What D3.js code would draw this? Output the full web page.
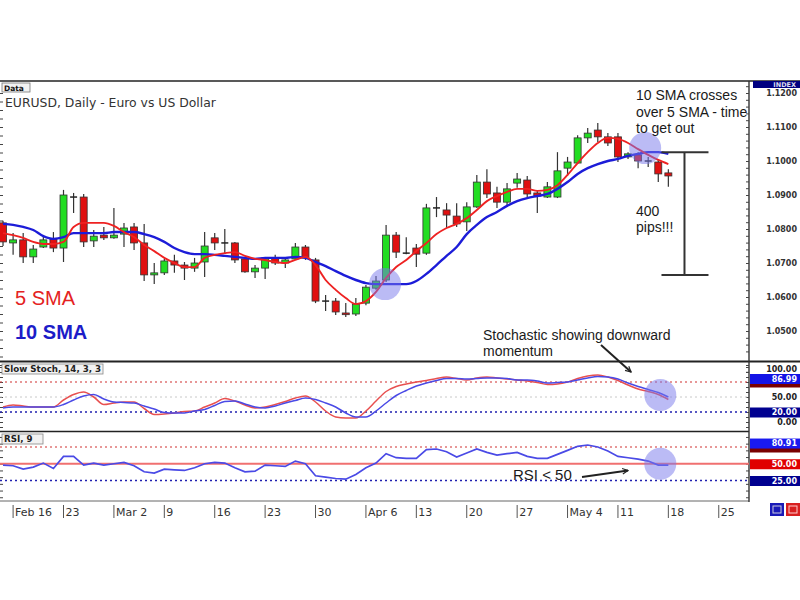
<!DOCTYPE html>
<html><head><meta charset="utf-8">
<script src="https://cdn.jsdelivr.net/npm/d3@7"></script>
<style>body{margin:0;background:#fff}svg{display:block}</style>
</head><body>
<svg id="c" width="800" height="600"></svg>
<script>
// ---------------- DATA ----------------
const dateLabels = ["Feb 16","23","Mar 2","9","16","23","30","Apr 6","13","20","27","May 4","11","18","25"];
const dateTickIdx = [1,6,11,16,21,26,31,36,41,46,51,56,61,66,71];

const open  = [1.0818,1.0759,1.0768,1.0718,1.0747,1.0771,1.0744,1.0894,1.0894,1.0765,1.0782,1.0774,1.0785,1.0806,1.0759,1.0665,1.0671,1.0706,1.0694,1.0685,1.0703,1.0774,1.0759,1.0759,1.0712,1.0674,1.0685,1.0715,1.0700,1.0712,1.0747,1.0709,1.0588,1.0588,1.0553,1.0550,1.0582,1.0626,1.0650,1.0782,1.0729,1.0744,1.0729,1.0862,1.0856,1.0838,1.0821,1.0865,1.0938,1.0906,1.0879,1.0935,1.0944,1.0906,1.0894,1.0894,1.0979,1.0994,1.1068,1.1091,1.1071,1.1071,1.1012,1.1018,1.1000,1.0997,1.0965];
const high  = [1.0824,1.0788,1.0788,1.0753,1.0782,1.0791,1.0915,1.0906,1.0903,1.0797,1.0806,1.0862,1.0818,1.0818,1.0815,1.0700,1.0712,1.0724,1.0703,1.0715,1.0791,1.0788,1.0800,1.0762,1.0718,1.0694,1.0718,1.0724,1.0718,1.0759,1.0753,1.0715,1.0606,1.0597,1.0582,1.0597,1.0635,1.0662,1.0812,1.0791,1.0776,1.0756,1.0874,1.0894,1.0876,1.0876,1.0879,1.0959,1.0976,1.0924,1.0935,1.0965,1.0956,1.0915,1.0938,1.1026,1.1012,1.1076,1.1097,1.1112,1.1082,1.1082,1.1026,1.1026,1.1012,1.1006,1.0976];
const low   = [1.0750,1.0724,1.0700,1.0700,1.0744,1.0732,1.0703,1.0847,1.0747,1.0747,1.0768,1.0771,1.0747,1.0738,1.0647,1.0638,1.0665,1.0671,1.0650,1.0674,1.0659,1.0738,1.0729,1.0700,1.0671,1.0656,1.0653,1.0694,1.0685,1.0709,1.0709,1.0582,1.0559,1.0547,1.0541,1.0544,1.0576,1.0621,1.0644,1.0715,1.0726,1.0688,1.0724,1.0835,1.0803,1.0806,1.0794,1.0862,1.0891,1.0862,1.0865,1.0921,1.0894,1.0847,1.0891,1.0891,1.0956,1.0991,1.1053,1.1056,1.1044,1.0997,1.1006,1.0979,1.0982,1.0938,1.0924];
const close = [1.0762,1.0768,1.0718,1.0741,1.0768,1.0744,1.0900,1.0893,1.0762,1.0779,1.0774,1.0782,1.0803,1.0759,1.0665,1.0671,1.0706,1.0694,1.0685,1.0700,1.0750,1.0759,1.0758,1.0709,1.0674,1.0685,1.0715,1.0700,1.0709,1.0747,1.0715,1.0588,1.0589,1.0556,1.0548,1.0579,1.0629,1.0647,1.0782,1.0732,1.0729,1.0726,1.0862,1.0861,1.0841,1.0815,1.0865,1.0938,1.0903,1.0879,1.0918,1.0947,1.0903,1.0897,1.0924,1.0971,1.0997,1.1068,1.1082,1.1071,1.1053,1.1012,1.1021,1.1000,1.0997,1.0962,1.0956];

const sma5  = [1.0788,1.0782,1.0774,1.0762,1.0756,1.0756,1.0762,1.0806,1.0818,1.0818,1.0818,1.0809,1.0791,1.0776,1.0753,1.0735,1.0715,1.0700,1.0688,1.0688,1.0715,1.0724,1.0729,1.0732,1.0721,1.0712,1.0709,1.0703,1.0700,1.0709,1.0718,1.0694,1.0650,1.0621,1.0597,1.0579,1.0588,1.0615,1.0656,1.0688,1.0709,1.0735,1.0759,1.0785,1.0803,1.0815,1.0832,1.0856,1.0882,1.0897,1.0909,1.0918,1.0918,1.0912,1.0915,1.0929,1.0959,1.0994,1.1026,1.1053,1.1068,1.1065,1.1053,1.1035,1.1018,1.1003,1.0991];
const sma10 = [1.0815,1.0812,1.0806,1.0797,1.0779,1.0771,1.0776,1.0788,1.0788,1.0788,1.0788,1.0791,1.0791,1.0791,1.0785,1.0776,1.0762,1.0744,1.0732,1.0726,1.0726,1.0724,1.0721,1.0718,1.0715,1.0712,1.0715,1.0715,1.0715,1.0718,1.0715,1.0703,1.0691,1.0676,1.0662,1.0650,1.0641,1.0638,1.0638,1.0638,1.0638,1.0647,1.0668,1.0694,1.0721,1.0747,1.0785,1.0812,1.0835,1.0850,1.0868,1.0882,1.0891,1.0897,1.0903,1.0918,1.0938,1.0962,1.0979,1.0991,1.1000,1.1006,1.1015,1.1021,1.1026,1.1026,1.1021];

const stochK = [30,34,32,30,30,30,44,55,60,50,35,38,40,40,27,15,16,18,21,22,30,38,47,42,34,28,30,35,41,48,52,40,22,10,8,8,22,42,61,71,76,80,83,87,90,87,84,88,90,88,86,84,82,79,75,76,80,87,92,94,90,83,74,66,61,55,45];
const stochD = [28,30,30,30,30,30,35,44,52,55,46,40,39,38,32,26,19,18,18,22,25,33,41,42,36,30,28,32,38,43,48,45,38,30,18,10,10,22,38,53,63,72,78,83,87,87,86,87,88,88,87,84,84,82,78,79,80,84,88,91,90,86,78,71,65,59,50];
const rsi    = [48,47,42,45,51,43,61,61,48,51,48,50,52,47,38,36,42,41,40,44,50,52,51,44,38,39,48,47,46,54,50,32,30,28,27,34,44,51,65,59,58,58,71,72,68,60,66,72,67,63,65,67,61,58,58,64,70,76,78,75,69,61,59,57,54,48,48];

const priceTicks = [1.12,1.11,1.10,1.09,1.08,1.07,1.06,1.05];
const stochLevels = {high:80, low:20, mid:50};
const rsiLevels = {high:75, mid:50, low:25};
const stochAxisText = [100, 50, 0];
const stochAxisBoxes = [{v:80,t:"",c:"#7a0000"},{v:86.99,t:"86.99",c:"#1414e6"},{v:20,t:"20.00",c:"#000090"}];
const rsiAxisBoxes = [{v:75,t:"",c:"#7a0000"},{v:80.91,t:"80.91",c:"#1a1af0"},{v:50,t:"50.00",c:"#e00000"},{v:25,t:"25.00",c:"#000090"}];

// ---------------- LAYOUT ----------------
const svg = d3.select("#c");
const AX = 749;
const P = {top:81, mainBot:361, stochBot:431, rsiBot:501};

const x  = d3.scaleLinear().domain([-0.3, 74]).range([0, AX]);
const yP = d3.scaleLinear().domain([1.05, 1.11]).range([331, 127]);
const yS = d3.scaleLinear().domain([0, 100]).range([422, 372]);
const yR = d3.scaleLinear().domain([25, 75]).range([480.5, 447]);

const defs = svg.append("defs");
function clip(id,y0,y1){defs.append("clipPath").attr("id",id).append("rect").attr("x",0).attr("y",y0).attr("width",AX).attr("height",y1-y0);}
clip("cm",P.top+1,P.mainBot); clip("cs",P.mainBot+1,P.stochBot); clip("cr",P.stochBot+1,P.rsiBot);
defs.append("marker").attr("id","arr").attr("viewBox","0 0 10 10").attr("refX",9).attr("refY",5)
  .attr("markerWidth",7).attr("markerHeight",7).attr("orient","auto").attr("markerUnits","userSpaceOnUse")
  .append("path").attr("d","M1,1 L9,5 L1,9").attr("fill","none").attr("stroke","#222").attr("stroke-width",1.6);

// ---------- frame ----------
svg.append("line").attr("x1",0).attr("x2",800).attr("y1",P.top).attr("y2",P.top).attr("stroke","#222").attr("stroke-width",1.5);
svg.append("line").attr("x1",0).attr("x2",800).attr("y1",P.mainBot+0.5).attr("y2",P.mainBot+0.5).attr("stroke","#222").attr("stroke-width",2);
svg.append("line").attr("x1",0).attr("x2",AX).attr("y1",P.stochBot+0.5).attr("y2",P.stochBot+0.5).attr("stroke","#222").attr("stroke-width",1.6);
svg.append("line").attr("x1",0).attr("x2",AX).attr("y1",P.rsiBot).attr("y2",P.rsiBot).attr("stroke","#666").attr("stroke-width",1);
svg.append("line").attr("x1",AX).attr("x2",AX).attr("y1",P.top).attr("y2",P.rsiBot+1).attr("stroke","#333").attr("stroke-width",1.4);

const gRA = svg.append("g").attr("transform",`translate(${AX},0)`)
  .call(d3.axisLeft(yP).tickValues(d3.range(1.038,1.122,0.002)).tickSize(3).tickFormat(""));
gRA.select(".domain").remove();
gRA.selectAll("line").attr("stroke","#444");
const gLA = svg.append("g")
  .call(d3.axisRight(yP).tickValues(d3.range(1.04,1.121,0.0025)).tickSize(3).tickFormat(""));
gLA.select(".domain").remove();
gLA.selectAll("line").attr("stroke","#444");
[[yS,d3.range(-10,121,10)],[yR,d3.range(0,101,10)]].forEach(([s,vals])=>{
  const g1=svg.append("g").attr("transform",`translate(${AX},0)`).call(d3.axisLeft(s).tickValues(vals).tickSize(3).tickFormat(""));
  g1.select(".domain").remove(); g1.selectAll("line").attr("stroke","#444");
  const g2=svg.append("g").call(d3.axisRight(s).tickValues(vals).tickSize(3).tickFormat(""));
  g2.select(".domain").remove(); g2.selectAll("line").attr("stroke","#444");
});
svg.selectAll(".tick").filter(function(){const t=this.getAttribute("transform");const m=/,([\d.\-]+)\)/.exec(t);if(!m)return false;const yy=+m[1];return Math.abs(yy-P.mainBot)<3||Math.abs(yy-P.stochBot)<3||yy<P.top+2||yy>P.rsiBot-1;}).remove();

// ---------- main panel ----------
const gm = svg.append("g").attr("clip-path","url(#cm)");
const idx = d3.range(open.length);
const UP="#22dd22", DN="#e01010";

gm.selectAll(".wick").data(idx).join("line")
  .attr("x1",i=>x(i)).attr("x2",i=>x(i)).attr("y1",i=>yP(high[i])).attr("y2",i=>yP(low[i]))
  .attr("stroke","#333").attr("stroke-width",1.2);
const bw=7;
gm.selectAll(".body").data(idx.filter(i=>Math.abs(yP(open[i])-yP(close[i]))>=1.5)).join("rect")
  .attr("x",i=>x(i)-bw/2).attr("width",bw)
  .attr("y",i=>yP(Math.max(open[i],close[i]))).attr("height",i=>Math.abs(yP(open[i])-yP(close[i])))
  .attr("fill",i=>close[i]>=open[i]?UP:DN).attr("stroke","#333").attr("stroke-width",0.8);
gm.selectAll(".doji").data(idx.filter(i=>Math.abs(yP(open[i])-yP(close[i]))<1.5)).join("line")
  .attr("x1",i=>x(i)-bw/2).attr("x2",i=>x(i)+bw/2).attr("y1",i=>yP(open[i])).attr("y2",i=>yP(open[i]))
  .attr("stroke","#222").attr("stroke-width",1.5);

const lineP = d3.line().x((d,i)=>x(i)).y(d=>yP(d)).curve(d3.curveMonotoneX);
gm.append("path").attr("d",lineP(sma10)).attr("fill","none").attr("stroke","#1c1cd8").attr("stroke-width",2.4);
gm.append("path").attr("d",lineP(sma5)).attr("fill","none").attr("stroke","#ee2222").attr("stroke-width",1.9);

const hl="rgba(120,120,235,0.5)";
gm.append("circle").attr("cx",x(37.9)).attr("cy",yP(1.0638)).attr("r",16).attr("fill",hl);
gm.append("circle").attr("cx",x(63.7)).attr("cy",yP(1.1038)).attr("r",16).attr("fill",hl);

const bx = x(67.6);
const brk = svg.append("g").attr("stroke","#333").attr("stroke-width",2);
brk.append("line").attr("x1",bx).attr("x2",bx).attr("y1",yP(1.1026)).attr("y2",yP(1.0665));
brk.append("line").attr("x1",bx-23).attr("x2",bx+24).attr("y1",yP(1.1026)).attr("y2",yP(1.1026));
brk.append("line").attr("x1",bx-23).attr("x2",bx+24).attr("y1",yP(1.0665)).attr("y2",yP(1.0665));

const AR="Liberation Sans, Arial, sans-serif", DV="DejaVu Sans, Verdana, sans-serif";
svg.append("rect").attr("x",2).attr("y",83).attr("width",28).attr("height",9).attr("fill","#f2f2f2").attr("stroke","#777").attr("stroke-width",0.8);
svg.append("text").attr("x",4).attr("y",90.5).text("Data").attr("font-family",DV).attr("font-size",7.5).attr("font-weight","bold").attr("fill","#111");
svg.append("text").attr("x",5).attr("y",106.5).text("EURUSD, Daily - Euro vs US Dollar").attr("font-family",DV).attr("font-size",12.4).attr("fill","#333");
svg.append("text").attr("x",15).attr("y",305).text("5 SMA").attr("font-family",AR).attr("font-size",20).attr("fill","#e42222");
svg.append("text").attr("x",15).attr("y",339).text("10 SMA").attr("font-family",AR).attr("font-size",20).attr("font-weight","bold").attr("fill","#1c1cc8");
const ann = (t,xx,yy,fs)=>svg.append("text").attr("x",xx).attr("y",yy).text(t).attr("font-family",AR).attr("font-size",fs||14).attr("fill","#1a1a1a");
ann("10 SMA crosses",636,100); ann("over 5 SMA - time",636,116.5); ann("to get out",636,133);
ann("400",636,216); ann("pips!!!",636,232);
ann("Stochastic showing downward",483,340); ann("momentum",483,356);

// ---------- stochastic ----------
const gs = svg.append("g").attr("clip-path","url(#cs)");
gs.append("line").attr("x1",0).attr("x2",AX).attr("y1",yS(stochLevels.mid)).attr("y2",yS(stochLevels.mid)).attr("stroke","#c8c8c8").attr("stroke-dasharray","2,3");
gs.append("line").attr("x1",0).attr("x2",AX).attr("y1",yS(stochLevels.high)).attr("y2",yS(stochLevels.high)).attr("stroke","#d03030").attr("stroke-width",1.2).attr("stroke-dasharray","2,3");
gs.append("line").attr("x1",0).attr("x2",AX).attr("y1",yS(stochLevels.low)).attr("y2",yS(stochLevels.low)).attr("stroke","#2020b0").attr("stroke-width",1.4).attr("stroke-dasharray","2,3");
const lineS = d3.line().x((d,i)=>x(i)).y(d=>yS(d)).curve(d3.curveMonotoneX);
gs.append("path").attr("d",lineS(stochK)).attr("fill","none").attr("stroke","#e85050").attr("stroke-width",1.5);
gs.append("path").attr("d",lineS(stochD)).attr("fill","none").attr("stroke","#4a4ae6").attr("stroke-width",1.5);
gs.append("circle").attr("cx",x(65.2)).attr("cy",yS(54)).attr("r",16).attr("fill",hl);
svg.append("rect").attr("x",2).attr("y",364).attr("width",101).attr("height",10).attr("fill","#f2f2f2").attr("stroke","#888").attr("stroke-width",0.8);
svg.append("text").attr("x",4).attr("y",372).text("Slow Stoch, 14, 3, 3").attr("font-family",DV).attr("font-size",8.7).attr("font-weight","bold").attr("fill","#222");

// ---------- RSI ----------
const gr = svg.append("g").attr("clip-path","url(#cr)");
gr.append("line").attr("x1",0).attr("x2",AX).attr("y1",yR(rsiLevels.high)).attr("y2",yR(rsiLevels.high)).attr("stroke","#d03030").attr("stroke-width",1.2).attr("stroke-dasharray","2,3");
gr.append("line").attr("x1",0).attr("x2",AX).attr("y1",yR(rsiLevels.low)).attr("y2",yR(rsiLevels.low)).attr("stroke","#2020b0").attr("stroke-width",1.4).attr("stroke-dasharray","2,3");
gr.append("line").attr("x1",0).attr("x2",AX).attr("y1",yR(rsiLevels.mid)).attr("y2",yR(rsiLevels.mid)).attr("stroke","#f07070").attr("stroke-width",2);
const lineR = d3.line().x((d,i)=>x(i)).y(d=>yR(d));
gr.append("path").attr("d",lineR(rsi)).attr("fill","none").attr("stroke","#4a4ae6").attr("stroke-width",1.7);
gr.append("circle").attr("cx",x(65.2)).attr("cy",yR(50)).attr("r",16).attr("fill",hl);
svg.append("rect").attr("x",2).attr("y",434).attr("width",41).attr("height",10).attr("fill","#f2f2f2").attr("stroke","#888").attr("stroke-width",0.8);
svg.append("text").attr("x",4).attr("y",442).text("RSI, 9").attr("font-family",DV).attr("font-size",8.7).attr("font-weight","bold").attr("fill","#222");
ann("RSI < 50",513,480,15);

svg.append("line").attr("x1",601).attr("y1",345).attr("x2",x(62.3)).attr("y2",yS(100)).attr("stroke","#222").attr("stroke-width",2).attr("marker-end","url(#arr)");
svg.append("line").attr("x1",582).attr("y1",477).attr("x2",x(62)).attr("y2",yR(40)).attr("stroke","#222").attr("stroke-width",2).attr("marker-end","url(#arr)");

// ---------- right labels ----------
const rl = svg.append("g").attr("font-family",DV).attr("font-size",8).attr("font-weight","bold").attr("text-anchor","end");
rl.selectAll(".pl").data(priceTicks).join("text")
  .attr("x",797).attr("y",d=>Math.max(yP(d),88)+3).text(d=>d3.format(".4f")(d)).attr("fill","#333");
svg.append("rect").attr("x",753).attr("y",P.top).attr("width",47).attr("height",7).attr("fill","#000080");
svg.append("text").attr("x",796).attr("y",P.top+6.3).attr("text-anchor","end").text("INDEX").attr("font-family",DV).attr("font-size",6.5).attr("font-weight","bold").attr("fill","#dde");

rl.selectAll(".st").data(stochAxisText).join("text").attr("x",797)
  .attr("y",d=>d===100?yS(d)+0.3:yS(d)+3).text(d=>d3.format(".2f")(d)).attr("fill","#222");
function boxes(data,s){
  data.forEach(b=>{
    svg.append("rect").attr("x",750).attr("y",s(b.v)-4.5).attr("width",50).attr("height",10).attr("fill",b.c);
    if(b.t) svg.append("text").attr("x",797).attr("y",s(b.v)+3.3).attr("text-anchor","end").text(b.t)
      .attr("font-family",DV).attr("font-size",8).attr("font-weight","bold").attr("fill","#fff");
  });
}
boxes(stochAxisBoxes,yS); boxes(rsiAxisBoxes,yR);

// ---------- x axis ----------
const gx = svg.append("g");
gx.selectAll(".xt").data(dateTickIdx).join("line")
  .attr("x1",i=>x(i)).attr("x2",i=>x(i)).attr("y1",P.rsiBot+4).attr("y2",P.rsiBot+17).attr("stroke","#555").attr("stroke-width",1);
gx.selectAll(".xl").data(dateTickIdx).join("text")
  .attr("x",i=>x(i)+2).attr("y",P.rsiBot+15).text((d,k)=>dateLabels[k])
  .attr("font-family",DV).attr("font-size",11).attr("fill","#333");

svg.append("rect").attr("x",770).attr("y",503).attr("width",14).attr("height",13).attr("fill","#1a1ab8");
svg.append("rect").attr("x",773).attr("y",506).attr("width",8).attr("height",7).attr("fill","none").attr("stroke","#ccd").attr("stroke-width",1);
svg.append("rect").attr("x",786).attr("y",503).attr("width",14).attr("height",13).attr("fill","#d82020");
svg.append("rect").attr("x",789).attr("y",506).attr("width",8).attr("height",7).attr("fill","none").attr("stroke","#fcc").attr("stroke-width",1);
</script>
</body></html>
